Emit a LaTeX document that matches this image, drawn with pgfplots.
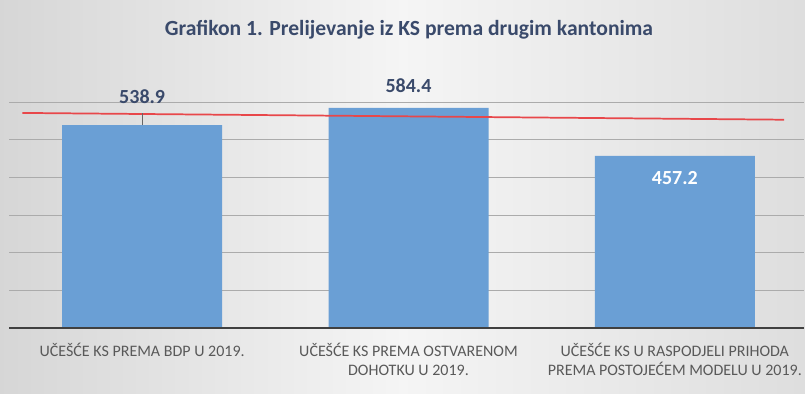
\documentclass[border=0pt]{standalone}
\usepackage{pgfplots}
\pgfplotsset{compat=1.18}
\usepackage{fontspec}
\setmainfont{Carlito}
\definecolor{barblue}{HTML}{6A9FD5}
\definecolor{titlecol}{HTML}{3A4A6B}
\definecolor{tickcol}{HTML}{595959}
\definecolor{gridcol}{HTML}{ABABAB}
\definecolor{redline}{HTML}{E8474A}
\begin{document}
\begin{tikzpicture}[x=0.75pt,y=0.75pt]
% background (1px = 0.75pt; axis origin at px (9,328))
\useasboundingbox (-9,-65) rectangle (796,328);
\shade[left color=black!16, right color=black!13, middle color=black!4] (-9,-65) rectangle (796,328);
\begin{axis}[
  at={(0,0)}, anchor=south west,
  scale only axis,
  width=596.25pt, height=169.5pt,
  xmin=-0.5, xmax=2.485,
  ymin=0, ymax=600,
  ytick={0,100,...,600},
  yticklabels={},
  xtick={0,1,2},
  xticklabels={{UČEŠĆE KS PREMA BDP U 2019.},{UČEŠĆE KS PREMA OSTVARENOM\\DOHOTKU U 2019.},{UČEŠĆE KS U RASPODJELI PRIHODA\\PREMA POSTOJEĆEM MODELU U 2019.}},
  xticklabel style={align=center, font=\fontsize{12}{14.3}\selectfont, text=tickcol, anchor=north, yshift=-7.5pt},
  major tick length=0pt,
  ymajorgrids,
  grid style={gridcol, line width=0.7pt},
  axis line style={draw=none},
  clip=false,
]
\addplot[ybar, bar width=120pt, fill=barblue, draw=none] coordinates {(0,538.9) (1,584.4) (2,457.2)};
\addplot[redline, line width=1.3pt] coordinates {(-0.45,571) (2.41,553)};
\addplot[black!60, line width=0.5pt] coordinates {(0,538.9) (0,572)};
\draw[black!75, line width=1.6pt] (axis cs:-0.5,0) -- (axis cs:2.485,0);
\node[font=\bfseries\fontsize{15}{18}\selectfont, text=titlecol] at (axis cs:0,613) {538.9};
\node[font=\bfseries\fontsize{15}{18}\selectfont, text=titlecol] at (axis cs:1,644) {584.4};
\node[font=\bfseries\fontsize{15}{18}\selectfont, text=white] at (axis cs:2,399) {457.2};
\end{axis}
\node[font=\bfseries\fontsize{16.2}{19}\selectfont, text=titlecol] at (400,298) {Grafikon 1. Prelijevanje iz KS prema drugim kantonima};
\end{tikzpicture}
\end{document}
